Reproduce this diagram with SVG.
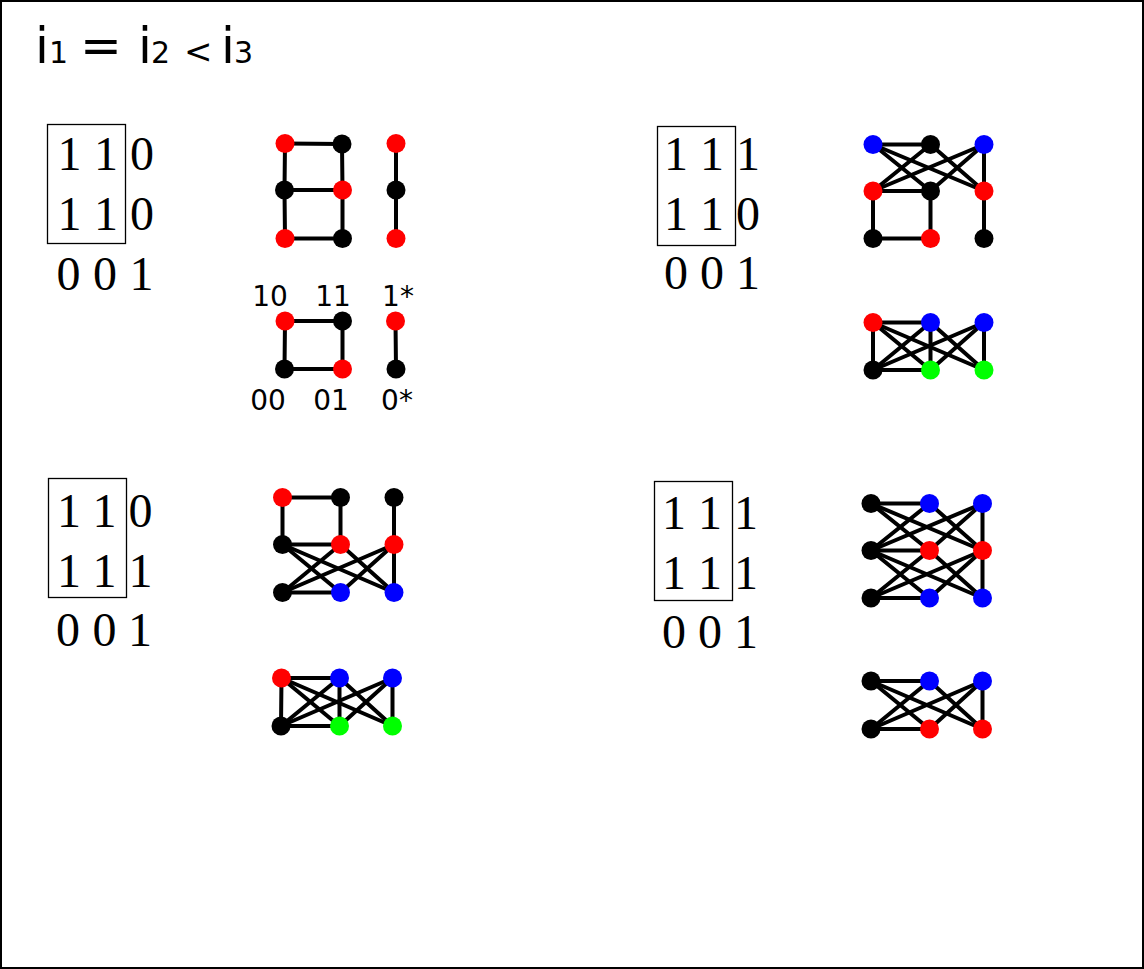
<svg xmlns="http://www.w3.org/2000/svg" width="1144" height="969" viewBox="0 0 1144 969">
  <style>
    .frame { fill: #fff; stroke: #000; stroke-width: 2; }
    .title { font-family: "DejaVu Sans", sans-serif; fill: #000; }
    .mat { font-family: "Liberation Serif", serif; font-size: 48px; fill: #000; text-anchor: middle; }
    .box { fill: none; stroke: #000; stroke-width: 1.3; }
    .lbl { font-family: "DejaVu Sans", sans-serif; font-size: 28px; fill: #000; text-anchor: middle; }
    .e line { stroke: #000; stroke-width: 4; stroke-linecap: round; }
    .r { fill: #ff0000; }
    .k { fill: #000000; }
    .b { fill: #0000ff; }
    .g { fill: #00ff00; }
  </style>

  <rect class="frame" x="1" y="1" width="1142" height="967"/>

  <!-- heading -->
  <text class="title" y="63"><tspan x="35" font-size="50">i</tspan><tspan x="49" font-size="30">1</tspan><tspan x="80" font-size="50">=</tspan><tspan x="138" font-size="50">i</tspan><tspan x="151" font-size="30">2</tspan><tspan x="184" font-size="34">&lt;</tspan><tspan x="221" font-size="50">i</tspan><tspan x="234" font-size="30">3</tspan></text>

  <!-- matrices -->
  <g id="matrix-a">
    <rect class="box" x="47.5" y="124.5" width="78" height="119"/>
    <text class="mat" y="170"><tspan x="69.5">1</tspan><tspan x="106">1</tspan><tspan x="142">0</tspan></text>
    <text class="mat" y="230"><tspan x="69.5">1</tspan><tspan x="106">1</tspan><tspan x="142">0</tspan></text>
    <text class="mat" y="290"><tspan x="68.5">0</tspan><tspan x="105">0</tspan><tspan x="141.5">1</tspan></text>
  </g>
  <g id="matrix-b">
    <rect class="box" x="657.5" y="126.5" width="78" height="119"/>
    <text class="mat" y="170"><tspan x="676">1</tspan><tspan x="712">1</tspan><tspan x="748">1</tspan></text>
    <text class="mat" y="230"><tspan x="676">1</tspan><tspan x="712">1</tspan><tspan x="748">0</tspan></text>
    <text class="mat" y="289"><tspan x="676">0</tspan><tspan x="712">0</tspan><tspan x="748">1</tspan></text>
  </g>
  <g id="matrix-c">
    <rect class="box" x="48.5" y="478.5" width="78" height="119"/>
    <text class="mat" y="527"><tspan x="69">1</tspan><tspan x="104.5">1</tspan><tspan x="140.5">0</tspan></text>
    <text class="mat" y="587"><tspan x="69">1</tspan><tspan x="104.5">1</tspan><tspan x="140.5">1</tspan></text>
    <text class="mat" y="646"><tspan x="68">0</tspan><tspan x="104.5">0</tspan><tspan x="140">1</tspan></text>
  </g>
  <g id="matrix-d">
    <rect class="box" x="654.5" y="481.5" width="78" height="119"/>
    <text class="mat" y="529"><tspan x="674">1</tspan><tspan x="710">1</tspan><tspan x="746">1</tspan></text>
    <text class="mat" y="589"><tspan x="674">1</tspan><tspan x="710">1</tspan><tspan x="746">1</tspan></text>
    <text class="mat" y="648"><tspan x="674">0</tspan><tspan x="710">0</tspan><tspan x="746">1</tspan></text>
  </g>

  <!-- vertex labels -->
  <g id="labels">
    <text class="lbl" x="270" y="306">10</text>
    <text class="lbl" x="333" y="306">11</text>
    <text class="lbl" x="398" y="306">1*</text>
    <text class="lbl" x="268" y="410">00</text>
    <text class="lbl" x="331" y="410">01</text>
    <text class="lbl" x="397" y="410">0*</text>
  </g>

  <!-- edges -->
  <g id="connectors" class="e">
    <!-- graph 1 -->
    <line x1="285" y1="143.5" x2="342" y2="144"/>
    <line x1="285" y1="143.5" x2="284.5" y2="190"/>
    <line x1="284.5" y1="190" x2="342.5" y2="190"/>
    <line x1="342" y1="144" x2="342.5" y2="190"/>
    <line x1="284.5" y1="190" x2="285" y2="238.5"/>
    <line x1="342.5" y1="190" x2="342.5" y2="238.5"/>
    <line x1="285" y1="238.5" x2="342.5" y2="238.5"/>
    <line x1="396" y1="143.5" x2="396" y2="190"/>
    <line x1="396" y1="190" x2="396" y2="238.5"/>
    <!-- graph 2 -->
    <line x1="285" y1="321" x2="342.5" y2="321"/>
    <line x1="285" y1="321" x2="284.5" y2="369"/>
    <line x1="284.5" y1="369" x2="342.5" y2="369"/>
    <line x1="342.5" y1="321" x2="342.5" y2="369"/>
    <line x1="395.5" y1="321" x2="396" y2="369"/>
    <!-- graph 3 -->
    <line x1="873" y1="144.5" x2="930.5" y2="144.5"/>
    <line x1="873" y1="144.5" x2="930.5" y2="191"/>
    <line x1="873" y1="144.5" x2="984" y2="191"/>
    <line x1="930.5" y1="144.5" x2="873" y2="191"/>
    <line x1="930.5" y1="144.5" x2="984" y2="191"/>
    <line x1="984" y1="144.5" x2="873" y2="191"/>
    <line x1="984" y1="144.5" x2="930.5" y2="191"/>
    <line x1="984" y1="144.5" x2="984" y2="191"/>
    <line x1="873" y1="191" x2="930.5" y2="191"/>
    <line x1="873" y1="191" x2="873" y2="238.5"/>
    <line x1="930.5" y1="191" x2="930.5" y2="238.5"/>
    <line x1="873" y1="238.5" x2="930.5" y2="238.5"/>
    <line x1="984" y1="191" x2="984" y2="238.5"/>
    <!-- graph 4 -->
    <line x1="873" y1="322.5" x2="930.5" y2="322.5"/>
    <line x1="873" y1="322.5" x2="873" y2="370"/>
    <line x1="873" y1="370" x2="930.5" y2="370"/>
    <line x1="930.5" y1="322.5" x2="930.5" y2="370"/>
    <line x1="984" y1="322.5" x2="984" y2="370"/>
    <line x1="873" y1="322.5" x2="930.5" y2="370"/>
    <line x1="873" y1="322.5" x2="984" y2="370"/>
    <line x1="873" y1="370" x2="930.5" y2="322.5"/>
    <line x1="873" y1="370" x2="984" y2="322.5"/>
    <line x1="930.5" y1="322.5" x2="984" y2="370"/>
    <line x1="984" y1="322.5" x2="930.5" y2="370"/>
    <!-- graph 5 -->
    <line x1="282.5" y1="497.5" x2="340.5" y2="497.5"/>
    <line x1="282.5" y1="497.5" x2="282.5" y2="544.5"/>
    <line x1="340.5" y1="497.5" x2="340.5" y2="544.5"/>
    <line x1="394" y1="497.5" x2="394" y2="544.5"/>
    <line x1="282.5" y1="544.5" x2="340.5" y2="544.5"/>
    <line x1="282.5" y1="544.5" x2="340.5" y2="592.5"/>
    <line x1="282.5" y1="544.5" x2="394" y2="592.5"/>
    <line x1="340.5" y1="544.5" x2="282.5" y2="592.5"/>
    <line x1="340.5" y1="544.5" x2="394" y2="592.5"/>
    <line x1="394" y1="544.5" x2="282.5" y2="592.5"/>
    <line x1="394" y1="544.5" x2="340.5" y2="592.5"/>
    <line x1="394" y1="544.5" x2="394" y2="592.5"/>
    <line x1="282.5" y1="592.5" x2="340.5" y2="592.5"/>
    <!-- graph 6 -->
    <line x1="281.5" y1="678" x2="339.5" y2="678"/>
    <line x1="281.5" y1="678" x2="281" y2="726"/>
    <line x1="281" y1="726" x2="339.5" y2="726"/>
    <line x1="339.5" y1="678" x2="339.5" y2="726"/>
    <line x1="392.5" y1="678" x2="392.5" y2="726"/>
    <line x1="281.5" y1="678" x2="339.5" y2="726"/>
    <line x1="281.5" y1="678" x2="392.5" y2="726"/>
    <line x1="281" y1="726" x2="339.5" y2="678"/>
    <line x1="281" y1="726" x2="392.5" y2="678"/>
    <line x1="339.5" y1="678" x2="392.5" y2="726"/>
    <line x1="392.5" y1="678" x2="339.5" y2="726"/>
    <!-- graph 7 -->
    <line x1="871" y1="503.5" x2="929.5" y2="503.5"/>
    <line x1="871" y1="503.5" x2="929.5" y2="550.5"/>
    <line x1="871" y1="503.5" x2="982.5" y2="550.5"/>
    <line x1="929.5" y1="503.5" x2="871" y2="550.5"/>
    <line x1="929.5" y1="503.5" x2="982.5" y2="550.5"/>
    <line x1="982.5" y1="503.5" x2="871" y2="550.5"/>
    <line x1="982.5" y1="503.5" x2="929.5" y2="550.5"/>
    <line x1="982.5" y1="503.5" x2="982.5" y2="550.5"/>
    <line x1="871" y1="550.5" x2="929.5" y2="550.5"/>
    <line x1="871" y1="550.5" x2="929.5" y2="598"/>
    <line x1="871" y1="550.5" x2="982.5" y2="598"/>
    <line x1="929.5" y1="550.5" x2="871" y2="598"/>
    <line x1="929.5" y1="550.5" x2="982.5" y2="598"/>
    <line x1="982.5" y1="550.5" x2="871" y2="598"/>
    <line x1="982.5" y1="550.5" x2="929.5" y2="598"/>
    <line x1="982.5" y1="550.5" x2="982.5" y2="598"/>
    <line x1="871" y1="598" x2="929.5" y2="598"/>
    <!-- graph 8 -->
    <line x1="871" y1="681" x2="929.5" y2="681"/>
    <line x1="871" y1="681" x2="929.5" y2="729"/>
    <line x1="871" y1="681" x2="982.5" y2="729"/>
    <line x1="929.5" y1="681" x2="871" y2="729"/>
    <line x1="929.5" y1="681" x2="982.5" y2="729"/>
    <line x1="982.5" y1="681" x2="871" y2="729"/>
    <line x1="982.5" y1="681" x2="929.5" y2="729"/>
    <line x1="982.5" y1="681" x2="982.5" y2="729"/>
    <line x1="871" y1="729" x2="929.5" y2="729"/>
  </g>

  <!-- vertices -->
  <g id="g1-tl"><circle class="r" cx="285" cy="143.5" r="9.5"/></g>
  <g id="g1-tm"><circle class="k" cx="342" cy="144" r="9.5"/></g>
  <g id="g1-tr"><circle class="r" cx="396" cy="143.5" r="9.5"/></g>
  <g id="g1-ml"><circle class="k" cx="284.5" cy="190" r="9.5"/></g>
  <g id="g1-mm"><circle class="r" cx="342.5" cy="190" r="9.5"/></g>
  <g id="g1-mr"><circle class="k" cx="396" cy="190" r="9.5"/></g>
  <g id="g1-bl"><circle class="r" cx="285" cy="238.5" r="9.5"/></g>
  <g id="g1-bm"><circle class="k" cx="342.5" cy="238.5" r="9.5"/></g>
  <g id="g1-br"><circle class="r" cx="396" cy="238.5" r="9.5"/></g>

  <g id="g2-tl"><circle class="r" cx="285" cy="321" r="9.5"/></g>
  <g id="g2-tm"><circle class="k" cx="342.5" cy="321" r="9.5"/></g>
  <g id="g2-tr"><circle class="r" cx="395.5" cy="321" r="9.5"/></g>
  <g id="g2-bl"><circle class="k" cx="284.5" cy="369" r="9.5"/></g>
  <g id="g2-bm"><circle class="r" cx="342.5" cy="369" r="9.5"/></g>
  <g id="g2-br"><circle class="k" cx="396" cy="369" r="9.5"/></g>

  <g id="g3-tl"><circle class="b" cx="873" cy="144.5" r="9.5"/></g>
  <g id="g3-tm"><circle class="k" cx="930.5" cy="144.5" r="9.5"/></g>
  <g id="g3-tr"><circle class="b" cx="984" cy="144.5" r="9.5"/></g>
  <g id="g3-ml"><circle class="r" cx="873" cy="191" r="9.5"/></g>
  <g id="g3-mm"><circle class="k" cx="930.5" cy="191" r="9.5"/></g>
  <g id="g3-mr"><circle class="r" cx="984" cy="191" r="9.5"/></g>
  <g id="g3-bl"><circle class="k" cx="873" cy="238.5" r="9.5"/></g>
  <g id="g3-bm"><circle class="r" cx="930.5" cy="238.5" r="9.5"/></g>
  <g id="g3-br"><circle class="k" cx="984" cy="238.5" r="9.5"/></g>

  <g id="g4-tl"><circle class="r" cx="873" cy="322.5" r="9.5"/></g>
  <g id="g4-tm"><circle class="b" cx="930.5" cy="322.5" r="9.5"/></g>
  <g id="g4-tr"><circle class="b" cx="984" cy="322.5" r="9.5"/></g>
  <g id="g4-bl"><circle class="k" cx="873" cy="370" r="9.5"/></g>
  <g id="g4-bm"><circle class="g" cx="930.5" cy="370" r="9.5"/></g>
  <g id="g4-br"><circle class="g" cx="984" cy="370" r="9.5"/></g>

  <g id="g5-tl"><circle class="r" cx="282.5" cy="497.5" r="9.5"/></g>
  <g id="g5-tm"><circle class="k" cx="340.5" cy="497.5" r="9.5"/></g>
  <g id="g5-tr"><circle class="k" cx="394" cy="497.5" r="9.5"/></g>
  <g id="g5-ml"><circle class="k" cx="282.5" cy="544.5" r="9.5"/></g>
  <g id="g5-mm"><circle class="r" cx="340.5" cy="544.5" r="9.5"/></g>
  <g id="g5-mr"><circle class="r" cx="394" cy="544.5" r="9.5"/></g>
  <g id="g5-bl"><circle class="k" cx="282.5" cy="592.5" r="9.5"/></g>
  <g id="g5-bm"><circle class="b" cx="340.5" cy="592.5" r="9.5"/></g>
  <g id="g5-br"><circle class="b" cx="394" cy="592.5" r="9.5"/></g>

  <g id="g6-tl"><circle class="r" cx="281.5" cy="678" r="9.5"/></g>
  <g id="g6-tm"><circle class="b" cx="339.5" cy="678" r="9.5"/></g>
  <g id="g6-tr"><circle class="b" cx="392.5" cy="678" r="9.5"/></g>
  <g id="g6-bl"><circle class="k" cx="281" cy="726" r="9.5"/></g>
  <g id="g6-bm"><circle class="g" cx="339.5" cy="726" r="9.5"/></g>
  <g id="g6-br"><circle class="g" cx="392.5" cy="726" r="9.5"/></g>

  <g id="g7-tl"><circle class="k" cx="871" cy="503.5" r="9.5"/></g>
  <g id="g7-tm"><circle class="b" cx="929.5" cy="503.5" r="9.5"/></g>
  <g id="g7-tr"><circle class="b" cx="982.5" cy="503.5" r="9.5"/></g>
  <g id="g7-ml"><circle class="k" cx="871" cy="550.5" r="9.5"/></g>
  <g id="g7-mm"><circle class="r" cx="929.5" cy="550.5" r="9.5"/></g>
  <g id="g7-mr"><circle class="r" cx="982.5" cy="550.5" r="9.5"/></g>
  <g id="g7-bl"><circle class="k" cx="871" cy="598" r="9.5"/></g>
  <g id="g7-bm"><circle class="b" cx="929.5" cy="598" r="9.5"/></g>
  <g id="g7-br"><circle class="b" cx="982.5" cy="598" r="9.5"/></g>

  <g id="g8-tl"><circle class="k" cx="871" cy="681" r="9.5"/></g>
  <g id="g8-tm"><circle class="b" cx="929.5" cy="681" r="9.5"/></g>
  <g id="g8-tr"><circle class="b" cx="982.5" cy="681" r="9.5"/></g>
  <g id="g8-bl"><circle class="k" cx="871" cy="729" r="9.5"/></g>
  <g id="g8-bm"><circle class="r" cx="929.5" cy="729" r="9.5"/></g>
  <g id="g8-br"><circle class="r" cx="982.5" cy="729" r="9.5"/></g>
</svg>
